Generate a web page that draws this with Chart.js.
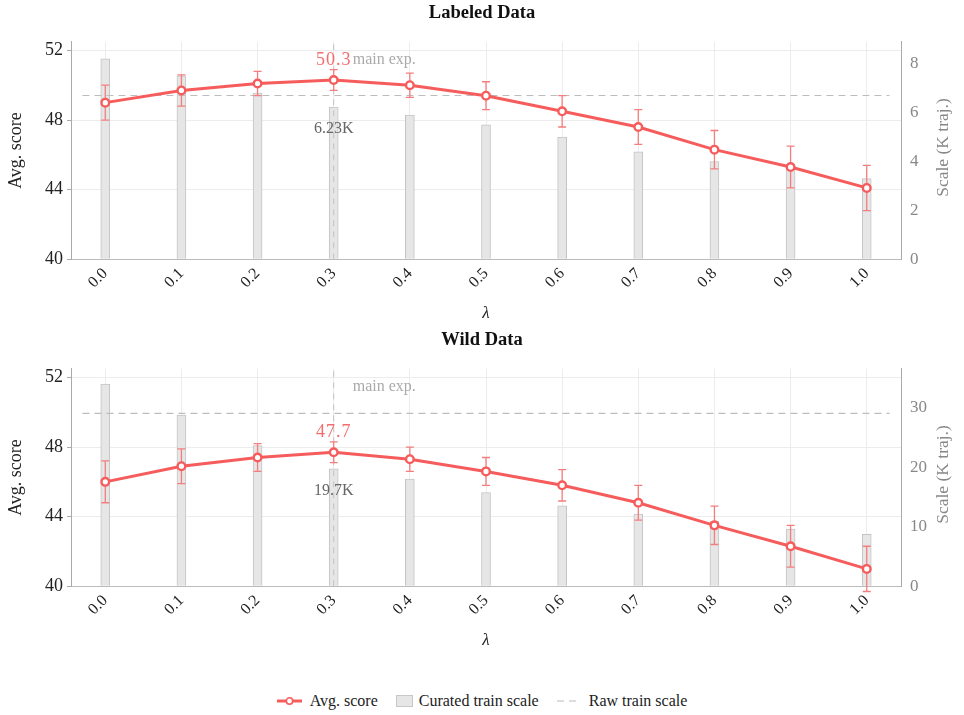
<!DOCTYPE html>
<html lang="en">
<head>
<meta charset="UTF-8">
<title>Avg. score vs lambda</title>
<script src="https://cdn.jsdelivr.net/npm/chart.js"></script>
<style>
  body { margin: 0; background: #fff; font-family: "Liberation Serif", serif; }
  .wrap { position: relative; width: 964px; height: 715px; }
  .panel { position: absolute; left: 0; width: 964px; height: 328px; }
  #legend {
    position: absolute; top: 690px; left: 0; width: 964px;
    display: flex; justify-content: center; align-items: center;
    font-size: 16px; color: #222; line-height: 22px;
  }
  #legend .item { display: flex; align-items: center; margin: 0 9px; }
  #legend svg { margin-right: 8px; }
  .box { width: 15px; height: 10px; background: #e6e6e6; border: 1px solid #c8c8c8; margin-right: 6px; }
</style>
</head>
<body>
<div class="wrap">
  <div class="panel" style="top:0"><canvas id="labeled" width="964" height="328"></canvas></div>
  <div class="panel" style="top:327px"><canvas id="wild" width="964" height="328"></canvas></div>
  <div id="legend">
    <div class="item">
      <svg width="25" height="10"><line x1="0" y1="5" x2="25" y2="5" stroke="#f65c5c" stroke-width="3"/><circle cx="12.5" cy="5" r="3.2" fill="#fff" stroke="#f65c5c" stroke-width="1.6"/></svg>
      Avg. score
    </div>
    <div class="item"><div class="box"></div>Curated train scale</div>
    <div class="item">
      <svg width="22" height="10" style="margin-right:10px"><line x1="0" y1="5" x2="22" y2="5" stroke="#bbb" stroke-width="1.2" stroke-dasharray="7 5"/></svg>
      Raw train scale
    </div>
  </div>
</div>

<script>
  // lambda values (x axis)
  const lambdas = [0.0, 0.1, 0.2, 0.3, 0.4, 0.5, 0.6, 0.7, 0.8, 0.9, 1.0];

  // Labeled Data
  const labeledScore   = [49.0, 49.7, 50.1, 50.3, 50.0, 49.4, 48.5, 47.6, 46.3, 45.3, 44.1];
  const labeledErr     = [1.0, 0.9, 0.7, 0.6, 0.7, 0.8, 0.9, 1.0, 1.1, 1.2, 1.3];
  const labeledCurated = [8.2, 7.5, 6.8, 6.23, 5.9, 5.5, 5.0, 4.4, 4.0, 3.7, 3.3];
  const labeledRaw     = 6.7;

  // Wild Data
  const wildScore   = [46.0, 46.9, 47.4, 47.7, 47.3, 46.6, 45.8, 44.8, 43.5, 42.3, 41.0];
  const wildErr     = [1.2, 1.0, 0.8, 0.6, 0.7, 0.8, 0.9, 1.0, 1.1, 1.2, 1.3];
  const wildCurated = [33.9, 28.7, 23.6, 19.7, 18.0, 15.7, 13.5, 12.1, 10.9, 9.6, 8.7];
  const wildRaw     = 29.0;

  // ticks and ranges
  const scoreTicks = [40, 44, 48, 52];
  const scoreRange = [40, 52.5];
  const labeledScaleTicks = [0, 2, 4, 6, 8];
  const wildScaleTicks = [0, 10, 20, 30];
  const labeledScaleMax = 8.9;
  const wildScaleMax = 36.5;
  const xRange = [-0.045, 1.045];
  const rawSpan = [-0.03, 1.03];

  const RED = '#f65c5c';
  const SERIF = '"Liberation Serif", serif';

  // error bars, annotations, right axis title
  const extras = {
    id: 'extras',
    beforeDatasetDraw(chart, args, o) {
      if (args.index !== 0) return;
      const { ctx, scales: { x, y } } = chart;
      ctx.save();
      ctx.strokeStyle = '#f47e7e';
      ctx.lineWidth = 1.3;
      o.score.forEach((v, i) => {
        const px = x.getPixelForValue(lambdas[i]);
        const t = y.getPixelForValue(v + o.err[i]);
        const b = y.getPixelForValue(v - o.err[i]);
        ctx.beginPath();
        ctx.moveTo(px, t); ctx.lineTo(px, b);
        ctx.moveTo(px - 4, t); ctx.lineTo(px + 4, t);
        ctx.moveTo(px - 4, b); ctx.lineTo(px + 4, b);
        ctx.stroke();
      });
      ctx.restore();
    },
    afterDatasetsDraw(chart, args, o) {
      const { ctx, chartArea: a, scales: { x, y, y2 } } = chart;
      const k = o.score.indexOf(Math.max(...o.score));
      const px = x.getPixelForValue(lambdas[k]);
      ctx.save();
      ctx.textBaseline = 'middle';
      ctx.textAlign = 'center';
      ctx.font = '18px ' + SERIF;
      ctx.letterSpacing = '1px';
      ctx.fillStyle = '#f26d6d';
      ctx.fillText(o.score[k].toFixed(1), px, y.getPixelForValue(o.score[k]) - 20);
      ctx.letterSpacing = '0px';
      ctx.font = '16px ' + SERIF;
      ctx.fillStyle = '#666';
      ctx.fillText(o.curated[k] + 'K', px, y2.getPixelForValue(o.curated[k]) + 21.5);
      ctx.textAlign = 'left';
      ctx.fillStyle = '#aaa';
      ctx.fillText('main exp.', px + 19, a.top + 18);
      ctx.restore();
    },
    afterDraw(chart) {
      const { ctx, chartArea: a } = chart;
      ctx.save();
      ctx.translate(943, (a.top + a.bottom) / 2 - 3);
      ctx.rotate(-Math.PI / 2);
      ctx.font = '17.5px ' + SERIF;
      ctx.fillStyle = '#888';
      ctx.textAlign = 'center';
      ctx.textBaseline = 'middle';
      ctx.fillText('Scale (K traj.)', 0, 0);
      ctx.restore();
    }
  };

  function makeChart(id, title, score, err, curated, raw, scaleTicks, scaleMax) {
    const k = score.indexOf(Math.max(...score));
    return new Chart(document.getElementById(id), {
      type: 'line',
      data: {
        datasets: [
          {
            label: 'Avg. score',
            data: lambdas.map((l, i) => ({ x: l, y: score[i] })),
            borderColor: RED,
            borderWidth: 3,
            pointRadius: 3.8,
            pointBorderWidth: 2.4,
            pointBackgroundColor: '#fff',
            pointBorderColor: RED,
            yAxisID: 'y',
            order: 0,
            clip: false
          },
          {
            type: 'bar',
            label: 'Curated train scale',
            data: lambdas.map((l, i) => ({ x: l, y: curated[i] })),
            backgroundColor: '#e6e6e6',
            borderColor: '#c4c4c4',
            borderWidth: 1,
            barThickness: 9,
            yAxisID: 'y2',
            order: 3
          },
          {
            label: 'Raw train scale',
            data: rawSpan.map(v => ({ x: v, y: raw })),
            borderColor: '#bdbdbd',
            borderWidth: 1.2,
            borderDash: [7, 5],
            pointRadius: 0,
            yAxisID: 'y2',
            order: 2
          },
          {
            label: 'main exp.',
            data: scoreRange.map(v => ({ x: lambdas[k], y: v })),
            borderColor: '#c2c2c2',
            borderWidth: 1,
            borderDash: [6, 5],
            pointRadius: 0,
            yAxisID: 'y',
            order: 1
          }
        ]
      },
      options: {
        responsive: false,
        animation: false,
        layout: { padding: 0 },
        plugins: {
          legend: { display: false },
          tooltip: { enabled: false },
          title: {
            display: true,
            text: title,
            color: '#111',
            font: { family: SERIF, size: 18.5, weight: 'bold' },
            padding: { top: 2, bottom: 17.5 }
          },
          extras: { score: score, err: err, curated: curated }
        },
        scales: {
          x: {
            type: 'linear',
            min: xRange[0],
            max: xRange[1],
            offset: false,
            afterBuildTicks: s => { s.ticks = lambdas.map(v => ({ value: v })); },
            afterFit: s => { s.height = 68.7; },
            ticks: {
              callback: v => v.toFixed(1),
              minRotation: 45,
              maxRotation: 45,
              padding: 5,
              color: '#222',
              font: { family: SERIF, size: 16 }
            },
            grid: { color: '#ececec', drawTicks: false, offset: false },
            border: { color: '#bbb' },
            title: {
              display: true,
              text: 'λ',
              color: '#222',
              font: { family: SERIF, size: 17, style: 'italic' },
              padding: { top: 0, bottom: 4.5 }
            }
          },
          y: {
            position: 'left',
            min: scoreRange[0],
            max: scoreRange[1],
            afterBuildTicks: s => { s.ticks = scoreTicks.map(v => ({ value: v })); },
            afterFit: s => { s.width = 71; },
            ticks: { padding: 4, color: '#222', font: { family: SERIF, size: 18 } },
            grid: { color: '#ececec', tickLength: 4, tickColor: '#aaa' },
            border: { color: '#aaa' },
            title: {
              display: true,
              text: 'Avg. score',
              color: '#222',
              font: { family: SERIF, size: 18 },
              padding: { top: 5.7, bottom: 0 }
            }
          },
          y2: {
            position: 'right',
            min: 0,
            max: scaleMax,
            afterBuildTicks: s => { s.ticks = scaleTicks.map(v => ({ value: v })); },
            afterFit: s => { s.width = 63; },
            ticks: { padding: 9, color: '#888', font: { family: SERIF, size: 17 } },
            grid: { drawOnChartArea: false, drawTicks: false },
            border: { color: '#aaa' }
          }
        }
      },
      plugins: [extras]
    });
  }

  makeChart('labeled', 'Labeled Data', labeledScore, labeledErr, labeledCurated, labeledRaw, labeledScaleTicks, labeledScaleMax);
  makeChart('wild', 'Wild Data', wildScore, wildErr, wildCurated, wildRaw, wildScaleTicks, wildScaleMax);
</script>
</body>
</html>
